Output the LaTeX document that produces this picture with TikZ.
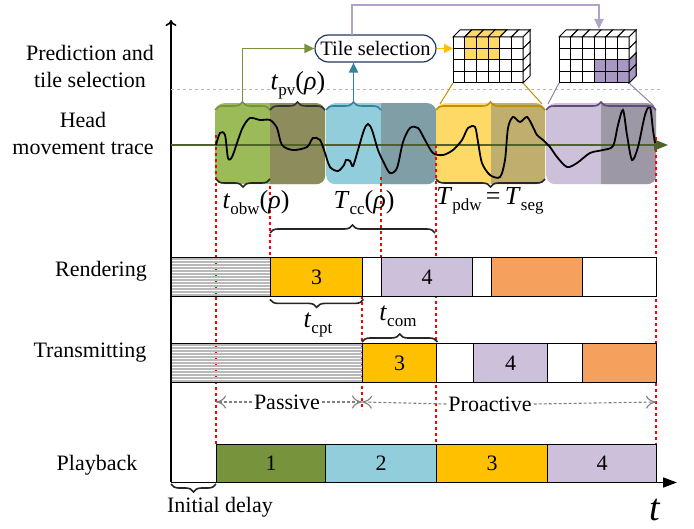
\documentclass[tikz,border=0pt]{standalone}
\usepackage{fontspec}
\setmainfont{Liberation Serif}
\usetikzlibrary{decorations.pathreplacing,arrows.meta,calc}
\definecolor{cgreen}{HTML}{9BBB59}
\definecolor{cgreenD}{HTML}{76923C}
\definecolor{cgreenH}{HTML}{8C8C5C}
\definecolor{cblue}{HTML}{92CDDC}
\definecolor{cblueD}{HTML}{31849B}
\definecolor{cblueH}{HTML}{7F9EA6}
\definecolor{cyel}{HTML}{FFD966}
\definecolor{cyelD}{HTML}{BF9000}
\definecolor{cyelH}{HTML}{BFAE6E}
\definecolor{clav}{HTML}{CCC0DA}
\definecolor{clavD}{HTML}{604A7B}
\definecolor{clavH}{HTML}{9C98A6}
\definecolor{cgold}{HTML}{FFC000}
\definecolor{corange}{HTML}{F5A05C}
\definecolor{cpb}{HTML}{77933C}
\definecolor{ctile}{HTML}{A797C3}
\definecolor{cparrow}{HTML}{B3A2C7}
\definecolor{caxis}{HTML}{4F6228}
\definecolor{cborder}{HTML}{1F3864}
\newcommand\tlab[3]{\textit{#1}\raisebox{-6pt}{\fontsize{17}{17}\selectfont #2}#3}
\begin{document}
\begin{tikzpicture}[x=1pt,y=-1pt,font=\fontsize{22}{27}\selectfont,
  hb/.style={rounded corners=9pt,minimum height=81pt,minimum width=110pt,inner sep=0,anchor=north west},
  bar/.style={draw=black,line width=1.4pt,inner sep=0,anchor=north west,minimum height=39pt},
  stripes/.style={path picture={\foreach \i in {1.5,4.5,...,40}
      \draw[gray!55,line width=1.4pt] ($(path picture bounding box.north west)+(-2,\i)$) -- ++(260,0);}},
  reddash/.style={red,line width=2pt,dash pattern=on 3.5pt off 2.5pt},
  brc/.style={decorate,decoration={brace,amplitude=8pt},line width=1.6pt},
  mlab/.style={font=\fontsize{26}{28}\selectfont,inner sep=0},
  pp/.style={gray,densely dashed,line width=1.1pt,arrows={-To[length=10pt,width=13pt,open]}},
  arr/.style={line width=1.8pt,-{Triangle[length=10pt,width=9pt]}}]
\useasboundingbox (0,0) rectangle (694,529);

% axes
\draw[line width=1.6pt,-{To[length=6pt,width=11pt]}] (171,482) -- (171,20);
\draw[line width=1.6pt,-{Triangle[length=14pt,width=10pt]}] (171,482.5) -- (677,482.5);
\node[font=\fontsize{38}{38}\selectfont\itshape,inner sep=0] (tlabel) at (655,510) {t};

% dashed separator
\draw[gray!55,dashed,line width=1pt] (171,90) -- (660,90);

% row labels
\node[align=center,inner sep=0] (lpred) at (90,66.5) {Prediction and\\tile selection};
\node[align=center,inner sep=0] (lhead) at (83,133.5) {Head\\movement trace};
\node[inner sep=0] (lrend) at (101,271) {Rendering};
\node[inner sep=0] (ltrans) at (90,353) {Transmitting};
\node[inner sep=0] (lplay) at (97,465) {Playback};

% head movement boxes
\node[hb,fill=cgreen] (hg) at (215,103) {};
\begin{scope}\clip (270,95) rectangle (330,190); \node[hb,fill=cgreenH] (hgH) at (215,103) {};\end{scope}
\node[hb,fill=cblue] (hbl) at (326,103) {};
\begin{scope}\clip (381,95) rectangle (440,190); \node[hb,fill=cblueH] (hblH) at (326,103) {};\end{scope}
\node[hb,fill=cyel,minimum width=109pt] (hy) at (436,103) {};
\begin{scope}\clip (491,95) rectangle (550,190); \node[hb,fill=cyelH,minimum width=109pt] (hyH) at (436,103) {};\end{scope}
\node[hb,fill=clav] (hl) at (546,103) {};
\begin{scope}\clip (601,95) rectangle (660,190); \node[hb,fill=clavH] (hlH) at (546,103) {};\end{scope}

% red dashed lines
\draw[reddash] (216,135) -- (216,444);
\draw[reddash] (270,186) -- (270,257);
\draw[reddash] (362,296) -- (362,410);
\draw[reddash] (381,177) -- (381,257);
\draw[reddash] (436,145) -- (436,444);
\draw[reddash] (656,137) -- (656,444);

% head axis and trace
\draw[caxis,line width=1.6pt,-{Triangle[length=14pt,width=11pt]}] (171,145) -- (668,145);
\draw[black,line width=1.8pt] plot[smooth,tension=0.5] coordinates {
(216,145) (220,133) (225,135) (228,158) (232,157) (238,140) (243,127) (250,118) (260,120) (270,120)
(277,128) (282,145) (293,150) (307,147) (313,138) (320,140) (325,153) (330,167) (338,171) (344,165)
(346,160) (350,161) (353,166) (358,150) (364,130) (368,124) (372,130) (378,150) (384,163) (390,173)
(397,168) (403,142) (410,128) (418,128) (425,140) (433,153) (443,155) (453,150) (462,140) (468,128)
(475,127) (478,142) (482,163) (490,175) (500,177) (505,160) (508,128) (513,117) (520,122) (527,117)
(533,127) (537,135) (543,140) (550,147) (557,157) (567,167) (577,163) (590,153) (603,150) (613,146)
(618,125) (623,110) (627,135) (632,160) (638,147) (645,115) (650,107) (653,130) (655,143)};

% braces above head boxes
\draw[brc,cgreenD] (215,110) -- (270,110);
\draw[brc,black!80] (270,110) -- (325,110);
\draw[brc,cblueD] (326,110) -- (381,110);
\draw[brc,cyelD] (436,110) -- (545,110);
\draw[brc,clavD] (546,110) -- (656,110);
\coordinate (gtip) at (242.5,102);
\coordinate (btip) at (353.5,102);

% braces below head boxes
\draw[brc,black!85] (270,179) -- (216,179);
\draw[brc,black!85] (545,179) -- (436,179);

% tile selection
\node[draw=cborder,line width=1.2pt,rounded corners=13.5pt,minimum width=121pt,minimum height=27pt,inner sep=0,font=\fontsize{20.5}{24}\selectfont] (ts) at (375.5,48.5) {Tile selection};
\draw[arr,cgreenD] (gtip) |- (ts.west);
\draw[arr,cblueD] (btip) -- (btip |- ts.south);

% grids
\def\cw{11.667}\def\ch{11.5}
\foreach \gx/\gn in {453/ga,559/gb}{
  \coordinate (\gn) at (\gx,37);
  \foreach \c in {0,...,5}{
    \foreach \r in {0,...,3}{
      \draw[line width=1pt,fill=white] (\gx+\c*\cw,37+\r*\ch) rectangle ++(\cw,\ch);}
    \draw[line width=1pt,fill=white] (\gx+\c*\cw,37) -- ++(7,-7) -- ++(\cw,0) -- ++(-7,7) -- cycle;}
  \foreach \r in {0,...,3}{
    \draw[line width=1pt,fill=white] (\gx+6*\cw,37+\r*\ch) -- ++(7,-7) -- ++(0,\ch) -- ++(-7,7) -- cycle;}
}
% grid A highlights
\foreach \c in {1,2,3}{
  \foreach \r in {0,1}{\draw[line width=1pt,fill=cyel] (453+\c*\cw,37+\r*\ch) rectangle ++(\cw,\ch);}
  \draw[line width=1pt,fill=cyel] (453+\c*\cw,37) -- ++(7,-7) -- ++(\cw,0) -- ++(-7,7) -- cycle;}
% grid B highlights
\foreach \c in {3,4,5}{
  \foreach \r in {2,3}{\draw[line width=1pt,fill=ctile] (559+\c*\cw,37+\r*\ch) rectangle ++(\cw,\ch);}}
\foreach \r in {2,3}{\draw[line width=1pt,fill=ctile] (559+6*\cw,37+\r*\ch) -- ++(7,-7) -- ++(0,\ch) -- ++(-7,7) -- cycle;}
\coordinate (gaL) at (453,83); \coordinate (gaR) at (523,83);
\coordinate (gbL) at (559,83); \coordinate (gbR) at (629,83);
\draw[arr,cgold,-{Triangle[length=9pt,width=9pt]}] (ts.east) -- (ga |- ts.east);
\draw[arr,cparrow] (352,35) -- (352,5) -| (599,29);
% projection lines
\draw[cyelD,line width=1pt] (440,104) -- (gaL);
\draw[cyelD,line width=1pt] (542,104) -- (gaR);
\draw[clavD!70,line width=1pt] (548,104) -- (gbL);
\draw[clavD!70,line width=1pt] (654,106) -- (gbR);

% labels of windows
\node[mlab] (tpv) at (298,85) {\tlab{t}{pv}{(\textit{ρ})}};
\node[mlab] (tobw) at (256,203) {\tlab{t}{obw}{(\textit{ρ})}};
\node[mlab] (tcc) at (364,203) {\tlab{T}{cc}{(\textit{ρ})}};
\node[mlab] (tpdw) at (490,201) {\tlab{T}{pdw}{}\,=\,\tlab{T}{seg}{}};
\draw[brc,black!85] (270,233) -- (435,233);

% rendering row
\node[bar,stripes,minimum width=99pt] (rh) at (171,257) {};
\node[bar,fill=cgold,minimum width=92pt] (r3) at (270,257) {3};
\node[bar,fill=white,minimum width=19pt] (rw1) at (362,257) {};
\node[bar,fill=clav,minimum width=91pt] (r4) at (381,257) {4};
\node[bar,fill=white,minimum width=19pt] (rw2) at (472,257) {};
\node[bar,fill=corange,minimum width=91pt] (r5) at (491,257) {};
\node[bar,fill=white,minimum width=74pt] (rw3) at (582,257) {};

\draw[brc,black!85] ($(r3.south east)+(0,2)$) -- ($(r3.south west)+(0,2)$);
\node[mlab] (tcpt) at (318,325) {\tlab{t}{cpt}{}};

% transmitting row
\node[bar,stripes,minimum width=191pt] (th) at (171,343) {};
\node[bar,fill=cgold,minimum width=74pt] (t3) at (362,343) {3};
\node[bar,fill=white,minimum width=37pt] (tw1) at (436,343) {};
\node[bar,fill=clav,minimum width=74pt] (t4) at (473,343) {4};
\node[bar,fill=white,minimum width=35pt] (tw2) at (547,343) {};
\node[bar,fill=corange,minimum width=74pt] (t5) at (582,343) {};
\draw[brc,black!85] ($(t3.north west)+(0,-1)$) -- ($(t3.north east)+(0,-1)$);
\node[mlab] (tcom) at (398,316) {\tlab{t}{com}{}};

% passive / proactive
\node[inner sep=2pt] (pas) at (287,402) {Passive};
\node[inner sep=2pt] (pro) at (490,404) {Proactive};
\coordinate (p0) at (216,402); \coordinate (p1) at (362,402); \coordinate (p2) at (656,402);
\draw[pp] (pas.west) -- (p0);
\draw[pp] (pas.east) -- (p1);
\draw[pp] (pro.west) -- (p1);
\draw[pp] (pro.east) -- (p2);

% playback row
\node[bar,fill=cpb,minimum width=109pt,minimum height=38pt] (p1b) at (216,444) {1};
\node[bar,fill=cblue,minimum width=111pt,minimum height=38pt] (p2b) at (325,444) {2};
\node[bar,fill=cgold,minimum width=111pt,minimum height=38pt] (p3b) at (436,444) {3};
\node[bar,fill=clav,minimum width=109pt,minimum height=38pt] (p4b) at (547,444) {4};
\coordinate (id0) at (171,484);
\draw[brc,black!85] (p1b.south west |- id0) -- (id0);
\node[inner sep=0] (idl) at (220,507) {Initial delay};
\end{tikzpicture}
\end{document}
